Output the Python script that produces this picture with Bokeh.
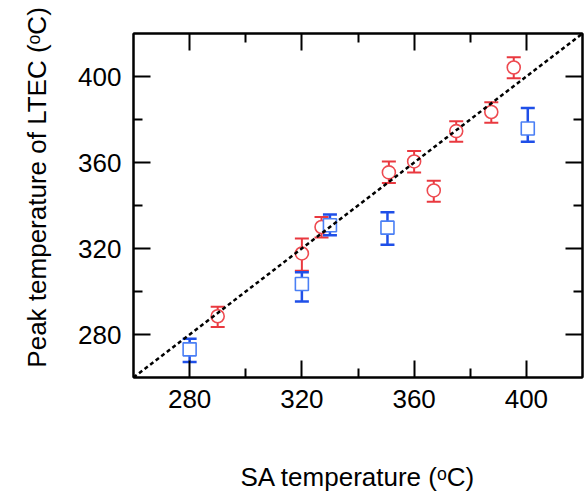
from bokeh.plotting import figure
from bokeh.models import (Range1d, FixedTicker, LinearAxis, Whisker, TeeHead,
                          ColumnDataSource, Slope, CustomJSTickFormatter)
from bokeh.embed import file_html
from bokeh.resources import INLINE

# ---- data ----
red_x = [290, 320, 327, 351, 360, 367, 375, 387.5, 395.5]
red_y = [288.5, 317.7, 330, 355.4, 360.5, 347, 374.6, 383.5, 404.2]
red_lo = [283.5, 309.7, 325.1, 350.5, 355.4, 341.8, 369.7, 378.5, 399.2]
red_hi = [292.9, 324.6, 334.6, 360.5, 365.4, 351.5, 379.2, 388, 408.9]

blue_x = [280, 320, 330, 350.5, 400.5]
blue_y = [273.1, 303.5, 330.8, 329.7, 375.8]
blue_lo = [267.2, 295.4, 326.2, 321.8, 369.7]
blue_hi = [278, 308.9, 335.8, 336.9, 385.4]

major_ticks = [280, 320, 360, 400]
minor_ticks = [300, 340, 380]
axis_min, axis_max = 260, 420

x_title = "SA temperature (\u1d52C)"
y_title = "\u00a0\u00a0\u00a0\u00a0\u00a0Peak temperature of LTEC (\u1d52C)"

FONT = "Liberation Sans"
RED = "#ee4a50"
RED_BAR = "#e9383f"
BLUE = "#4a7ff5"
BLUE_BAR = "#1f4fe8"

p = figure(width=585, height=494,
           x_range=Range1d(axis_min, axis_max), y_range=Range1d(axis_min, axis_max),
           x_axis_type=None, y_axis_type=None,
           output_backend="svg", toolbar_location=None,
           min_border_left=133, min_border_top=33, min_border_right=3,
           min_border_bottom=116)
p.grid.visible = False
p.outline_line_color = "black"
p.outline_line_width = 2
p.background_fill_color = "white"
p.border_fill_color = "white"

bottom_axis = LinearAxis()
left_axis = LinearAxis()
top_axis = LinearAxis()
right_axis = LinearAxis()
p.add_layout(bottom_axis, "below")
p.add_layout(left_axis, "left")
p.add_layout(top_axis, "above")
p.add_layout(right_axis, "right")


def style(ax, labels=True):
    ax.ticker = FixedTicker(ticks=major_ticks, minor_ticks=minor_ticks)
    ax.axis_line_color = "black"
    ax.axis_line_width = 2
    ax.major_tick_in = 17
    ax.major_tick_out = 0
    ax.minor_tick_in = 9
    ax.minor_tick_out = 0
    ax.major_tick_line_width = 2
    ax.minor_tick_line_width = 2
    ax.major_tick_line_color = "black"
    ax.minor_tick_line_color = "black"
    if labels:
        ax.major_label_text_font = FONT
        ax.major_label_text_font_size = "26px"
        ax.major_label_text_color = "black"
        ax.major_label_standoff = 12
        ax.axis_label_text_font = FONT
        ax.axis_label_text_font_size = "26px"
        ax.axis_label_text_font_style = "normal"
        ax.axis_label_text_color = "black"
    else:
        ax.formatter = CustomJSTickFormatter(code="return ''")
        ax.major_label_standoff = 0
        ax.major_label_text_font_size = "1px"


style(bottom_axis)
style(left_axis)
style(top_axis, labels=False)
style(right_axis, labels=False)
bottom_axis.axis_label = x_title
left_axis.axis_label = y_title
bottom_axis.axis_label_standoff = 51
left_axis.axis_label_standoff = 23

red_src = ColumnDataSource(dict(x=red_x, y=red_y, lo=red_lo, hi=red_hi))
blue_src = ColumnDataSource(dict(x=blue_x, y=blue_y, lo=blue_lo, hi=blue_hi))

for src, col, lw in ((red_src, RED_BAR, 2), (blue_src, BLUE_BAR, 2.5)):
    w = Whisker(source=src, base="x", lower="lo", upper="hi", dimension="height",
                line_color=col, line_width=lw,
                upper_head=TeeHead(size=14, line_color=col, line_width=lw),
                lower_head=TeeHead(size=14, line_color=col, line_width=lw))
    p.add_layout(w)

p.scatter("x", "y", source=red_src, marker="circle", size=13,
          fill_color="white", line_color=RED, line_width=1.6)
p.scatter("x", "y", source=blue_src, marker="square", size=13,
          fill_color="white", line_color=BLUE, line_width=1.6)

diag = Slope(gradient=1, y_intercept=0, line_color="black", line_width=2.5,
             line_dash="4 3", level="overlay")
p.add_layout(diag)

open("out.html", "w").write(file_html(p, INLINE))
